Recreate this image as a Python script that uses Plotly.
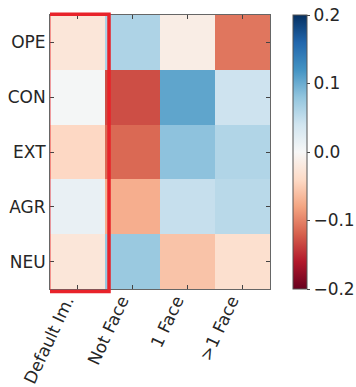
import plotly.graph_objects as go

# Traits (rows) and image conditions (columns)
traits = ["OPE", "CON", "EXT", "AGR", "NEU"]
conditions = ["Default Im.", "Not Face", "1 Face", ">1 Face"]

# Correlation values per trait, one list per condition column
default_im = [-0.025, 0.003, -0.042, 0.015, -0.025]
not_face = [0.062, -0.13, -0.115, -0.073, 0.075]
one_face = [-0.015, 0.106, 0.082, 0.047, -0.058]
multi_face = [-0.107, 0.042, 0.06, 0.055, -0.033]

cbar_ticks = [-0.2, -0.1, 0.0, 0.1, 0.2]

# Diverging red-white-blue scale (red = negative, blue = positive)
rdbu = ["#67001f", "#b2182b", "#d6604d", "#f4a582", "#fddbc7", "#f7f7f7",
        "#d1e5f0", "#92c5de", "#4393c3", "#2166ac", "#053061"]
colorscale = [[i / (len(rdbu) - 1), c] for i, c in enumerate(rdbu)]

z = [[default_im[i], not_face[i], one_face[i], multi_face[i]] for i in range(len(traits))]

font = dict(family="DejaVu Sans", size=17, color="#262626")

fig = go.Figure(go.Heatmap(
    z=z, x=conditions, y=traits,
    zmin=-0.2, zmax=0.2, colorscale=colorscale,
    xgap=0, ygap=0,
    colorbar=dict(
        x=1.105, xanchor="left", y=0.5, yanchor="middle",
        len=1.0, lenmode="fraction", thickness=14, thicknessmode="pixels",
        outlinewidth=1, outlinecolor="#555555",
        tickvals=cbar_ticks, ticktext=["\u22120.2", "\u22120.1", "0.0", "0.1", "0.2"],
        ticks="outside", ticklen=3, tickcolor="#444444",
        tickfont=font, xpad=0, ypad=0,
    ),
))

fig.update_xaxes(
    tickangle=-65, tickfont=font, ticks="inside", ticklen=4, tickcolor="#444444",
    ticklabelshift=-11, ticklabelstandoff=-6,
    showline=True, linecolor="#666666", linewidth=1, mirror="ticks",
    range=[-0.5, 3.5], showgrid=False, zeroline=False, automargin=False,
)
fig.update_yaxes(
    autorange="reversed", tickfont=font, ticks="inside", ticklen=4, tickcolor="#444444",
    showline=True, linecolor="#666666", linewidth=1, mirror="ticks",
    showgrid=False, zeroline=False, automargin=False,
)

# Highlight frame around the first column
fig.add_shape(
    type="rect", xref="x", yref="paper",
    x0=-0.524, x1=0.573, y0=-0.009, y1=1.003,
    line=dict(color="#e8232a", width=3.5), fillcolor="rgba(0,0,0,0)",
)

fig.update_layout(
    width=356, height=387,
    margin=dict(l=50, r=86, t=15, b=98, autoexpand=False),
    paper_bgcolor="white", plot_bgcolor="white",
    font=font,
)

fig.write_html("out.html")
